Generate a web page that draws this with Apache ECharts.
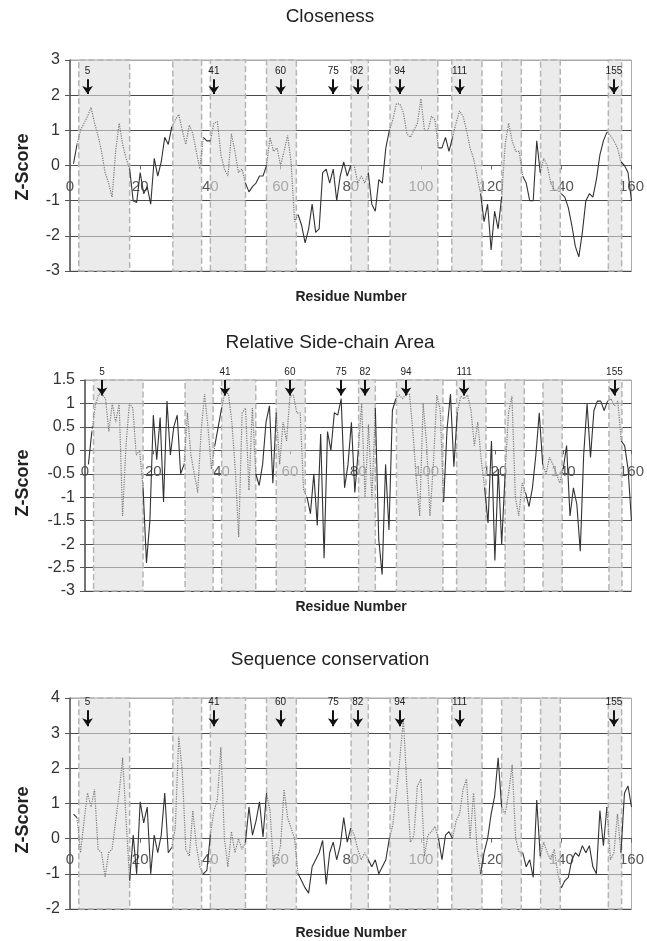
<!DOCTYPE html>
<html>
<head>
<meta charset="utf-8">
<script src="https://cdn.jsdelivr.net/npm/echarts@6/dist/echarts.min.js"></script>
<style>
  html, body { margin: 0; padding: 0; background: #fff; }
  #main { width: 647px; height: 941px; }
</style>
</head>
<body>
<div id="main"></div>
<script>
// z-scores per residue (index 0 = residue 1)
const closeness = [
  0.05, 0.6, 1.0, 1.2, 1.4, 1.65, 1.2, 0.85, 0.4, -0.2,
  -0.5, -0.9, 0.4, 1.2, 0.6, 0.2, -0.1, -1.0, -1.05, -0.2,
  -0.8, -0.6, -1.1, 0.2, -0.3, 0.1, 0.8, 0.6, 1.1, 1.3,
  1.45, 1.0, 0.6, 1.15, 0.9, 0.4, -0.1, 0.8, 0.7, 0.7,
  1.2, 1.25, 0.3, -0.1, -0.3, 0.9, 0.4, -0.2, -0.1, -0.5,
  -0.75, -0.6, -0.5, -0.3, -0.3, 0.0, 0.8, 0.4, 0.5, 0.0,
  0.4, 0.85, 0.1, -1.6, -1.4, -1.7, -2.2, -1.8, -1.1, -1.9,
  -1.8, -0.2, -0.1, -0.5, -0.1, -1.0, -0.3, 0.1, -0.3, 0.0,
  0.0, -0.5, -0.3, -0.5, -0.2, -1.1, -1.3, -0.4, -0.5, 0.5,
  1.0, 1.3, 1.75, 1.75, 1.5, 0.9, 0.8, 1.0, 1.2, 1.9,
  1.0, 1.0, 1.4, 1.3, 0.5, 0.5, 0.8, 0.4, 0.8, 1.2,
  1.55, 1.4, 1.0, 0.5, 0.2, -0.3, -0.8, -1.6, -1.1, -2.4,
  -1.3, -1.8, -0.9, 0.6, 1.2, 0.7, 0.4, 0.4, -0.3, -0.5,
  -1.0, -1.0, 0.7, -0.2, 0.2, 0.0, -0.5, -0.7, -0.7, -0.8,
  -0.9, -1.2, -1.7, -2.3, -2.6, -1.9, -1.0, -0.8, -0.9, -0.4,
  0.3, 0.7, 0.95, 0.85, 0.7, 0.5, 0.1, 0.0, -0.2, -1.0
]
const sideChain = [
  -0.3, 0.4, 0.95, 1.2, 1.2, 1.1, 0.4, 1.0, 0.6, 1.0,
  -1.4, 0.1, 1.0, 0.9, -0.1, 0.0, -0.8, -2.4, -1.5, 0.75,
  -0.2, 0.7, -1.1, 1.05, -0.1, 0.5, 0.75, -0.5, -0.3, 0.8,
  -0.1, -0.5, -0.9, 0.4, 1.2, 0.5, -0.4, 0.1, 0.5, 0.9,
  1.25, 1.2, 0.6, -0.4, -1.85, 0.8, 0.9, -0.85, 0.9, -0.5,
  -0.75, -0.3, 0.6, 0.95, -0.7, 0.8, -0.3, 0.6, 0.2, 1.15,
  1.18, 0.8, 0.8, -0.85, -1.0, -1.35, -0.5, -1.6, 0.35, -2.3,
  0.4, 0.0, 0.8, 0.75, 1.1, -0.8, -0.3, 0.6, -0.9, 0.0,
  1.0, -1.0, 0.55, -1.05, 0.9, -1.9, -2.65, -0.3, -1.7, 0.85,
  1.1, 1.18, 1.1, 1.2, 1.2, 0.4, -0.6, -1.4, 1.0, 0.15,
  -1.4, -0.3, 1.18, 0.85, -1.1, 0.45, 1.2, -0.35, 0.8, 1.15,
  1.1, 1.18, 0.85, 0.1, 0.6, -0.2, -0.8, -1.55, 0.2, -2.35,
  -0.4, -2.0, -0.5, 0.8, 1.15, -1.0, -1.4, -0.7, -0.9, -1.2,
  -0.8, -0.1, 0.8, -0.3, -0.5, -0.15, -0.3, -0.5, -0.7, -0.4,
  0.1, -1.4, -0.8, -1.15, -2.15, -0.1, 1.0, -0.15, 0.85, 1.05,
  1.05, 0.85, 1.05, 1.1, 0.95, 1.05, 0.2, 0.1, -0.4, -1.5
]
const conservation = [
  0.7, 0.6, -0.4, 0.5, 1.3, 0.9, 1.4, -0.3, -0.4, -1.1,
  -0.4, -0.3, 0.5, 1.3, 2.3, 0.5, -1.2, 0.1, -1.0, 1.05,
  0.45, 0.9, -1.0, 0.1, -0.4, 0.1, 1.3, -0.4, -0.25, 0.3,
  2.9, 1.9, -0.3, -0.5, 0.8, -0.2, -0.8, -1.0, -0.9, 0.1,
  0.8, 1.1, 2.6, 0.0, -0.8, 0.2, -0.4, 0.0, -0.3, -0.1,
  0.9, 0.1, 0.5, 1.05, 0.05, 1.3, 0.8, -0.8, -0.6, -0.2,
  1.4, 0.6, 0.3, 0.0, -1.0, -1.2, -1.4, -1.55, -0.8, -0.6,
  -0.4, -0.05, -1.3, -0.4, -0.1, -0.6, -0.2, 0.6, -0.1, 0.3,
  0.1, -0.3, -0.6, -0.4, -0.6, -0.8, -0.6, -1.0, -0.8, -0.6,
  0.0, 0.4, 1.3, 2.3, 3.4, 1.5, -0.1, 0.1, 1.5, 1.7,
  -0.5, 0.1, 0.2, 0.35, 0.0, -0.6, 0.1, 0.2, 0.0, 0.5,
  0.7, 1.4, 1.7, 0.0, 1.3, -0.3, -1.0, -0.4, 0.0, 0.7,
  1.2, 2.3, 0.9, 0.7, 1.3, 2.1, 0.0, -0.4, -0.4, -0.8,
  -0.6, -1.1, 1.1, -0.5, -0.1, -0.4, -0.6, -0.3, -1.0, -1.4,
  -1.2, -1.1, -0.6, -0.4, -0.5, -0.2, -0.4, -0.2, -0.8, -1.0,
  0.8, -0.2, 0.9, -0.6, -0.4, 0.7, -0.4, 1.3, 1.5, 0.9
]

// shaded residue ranges and arrowed residues
const regionStart = [2.5, 29.3, 40, 56, 80.1, 91.2, 108.8, 123, 134.1, 153.4]
const regionEnd = [17, 37.5, 50, 64.5, 85, 104.8, 117.4, 128.6, 139.7, 157.2]
const arrows = [5, 41, 60, 75, 82, 94, 111, 155]

const titles = ["Closeness", "Relative Side-chain Area", "Sequence conservation"]

const FONT = '"Liberation Sans", Arial, sans-serif'
const PLOT_H = 211

const chart = echarts.init(document.getElementById("main"))

const panels = [
  { values: closeness, min: -3, max: 3, step: 1, pad: 0.2, top: 60, left: 70, arrowTop: 2.45, arrowTip: 2.03 },
  { values: sideChain, min: -3, max: 1.5, step: 0.5, pad: 0.15, top: 380, left: 85, arrowTop: 1.5, arrowTip: 1.17 },
  { values: conservation, min: -2, max: 4, step: 1, pad: 0.2, top: 698, left: 70, arrowTop: 3.65, arrowTip: 3.2 }
]

const inRegion = (r) => regionStart.some((s, i) => r >= s && r <= regionEnd[i])

const grids = [], xAxes = [], yAxes = [], series = []

panels.forEach((p, k) => {
  grids.push({
    left: p.left, top: p.top, width: 633 - p.left, height: PLOT_H,
    show: true, borderColor: "#aaa", borderWidth: 1
  })
  // x axis sits on the zero line of the z-score axis
  xAxes.push({
    gridIndex: k, type: "value", min: 0, max: 160, interval: 20,
    position: "bottom",
    offset: -((0 - p.min) / (p.max - p.min)) * PLOT_H,
    axisLine: { onZero: false, lineStyle: { color: "#555", width: 1 } },
    axisTick: { show: true, length: 4, lineStyle: { color: "#666" } },
    axisLabel: { color: "#555", fontSize: 15, fontFamily: FONT, margin: 14 },
    splitLine: { show: false }
  })
  const nLines = Math.round((p.max - p.min) / p.step) + 1
  const lineColors = []
  for (let i = 0; i < nLines; i++) lineColors.push(i === nLines - 1 ? "#aaa" : "#4a4a4a")
  yAxes.push({
    gridIndex: k, type: "value", min: p.min, max: p.max, interval: p.step,
    axisLine: { show: true, onZero: false, lineStyle: { color: "#555", width: 1.5 } },
    axisTick: { show: true, length: 5, lineStyle: { color: "#555" } },
    axisLabel: { color: "#333", fontSize: 16, fontFamily: FONT, margin: 10 },
    splitLine: { show: true, lineStyle: { color: lineColors, width: 1.2 } }
  })

  // split line into solid (outside ranges) and dotted (inside ranges)
  const n = p.values.length
  const solid = [], dotted = []
  for (let i = 0; i < n; i++) {
    const r = i + 1
    const prev = i > 0 ? inRegion(r - 0.5) : null
    const next = i < n - 1 ? inRegion(r + 0.5) : null
    dotted.push(prev === true || next === true ? [r, p.values[i]] : [r, null])
    solid.push(prev === false || next === false ? [r, p.values[i]] : [r, null])
  }

  series.push({
    type: "line", xAxisIndex: k, yAxisIndex: k, data: dotted,
    showSymbol: false, symbol: "none", clip: false, silent: true,
    lineStyle: { color: "#7a7a7a", width: 1.2, type: "dotted" },
    markArea: {
      silent: true,
      itemStyle: {
        color: "rgba(222,222,222,0.6)", borderColor: "#b5b5b5",
        borderWidth: 1.5, borderType: "dashed"
      },
      data: regionStart.map((s, i) => [
        { xAxis: s, yAxis: p.min - p.pad },
        { xAxis: regionEnd[i], yAxis: p.max + p.pad }
      ])
    },
    z: 2
  })
  series.push({
    type: "line", xAxisIndex: k, yAxisIndex: k, data: solid,
    showSymbol: false, symbol: "none", clip: false, silent: true,
    lineStyle: { color: "#333", width: 1.1 },
    markLine: {
      silent: true,
      symbol: ["none", "arrow"], symbolSize: [8, 8],
      lineStyle: { color: "#111", width: 2, type: "solid" },
      label: {
        show: true, position: "start", distance: 3,
        fontSize: 10, color: "#222", fontFamily: FONT,
        formatter: (d) => d.name
      },
      data: arrows.map((a) => [
        { name: String(a), coord: [a, p.arrowTop] },
        { coord: [a, p.arrowTip] }
      ])
    },
    z: 3
  })
})

const textCenters = [
  { title: 17, xname: 297, zname: 167 },
  { title: 343, xname: 607, zname: 483 },
  { title: 660, xname: 933, zname: 820 }
]
const graphic = []
textCenters.forEach((c, k) => {
  graphic.push({
    type: "text", x: 330, y: c.title,
    style: { text: titles[k], font: "19px " + FONT, fill: "#222", align: "center", verticalAlign: "middle" }
  })
  graphic.push({
    type: "text", x: 351, y: c.xname,
    style: { text: "Residue Number", font: "bold 14px " + FONT, fill: "#222", align: "center", verticalAlign: "middle" }
  })
  graphic.push({
    type: "text", x: 23, y: c.zname, rotation: Math.PI / 2,
    style: { text: "Z-Score", font: "bold 18px " + FONT, fill: "#222", align: "center", verticalAlign: "middle" }
  })
})

const option = {
  animation: false,
  backgroundColor: "#fff",
  grid: grids,
  xAxis: xAxes,
  yAxis: yAxes,
  series: series,
  graphic: graphic
}
option && chart.setOption(option)
</script>
</body>
</html>
